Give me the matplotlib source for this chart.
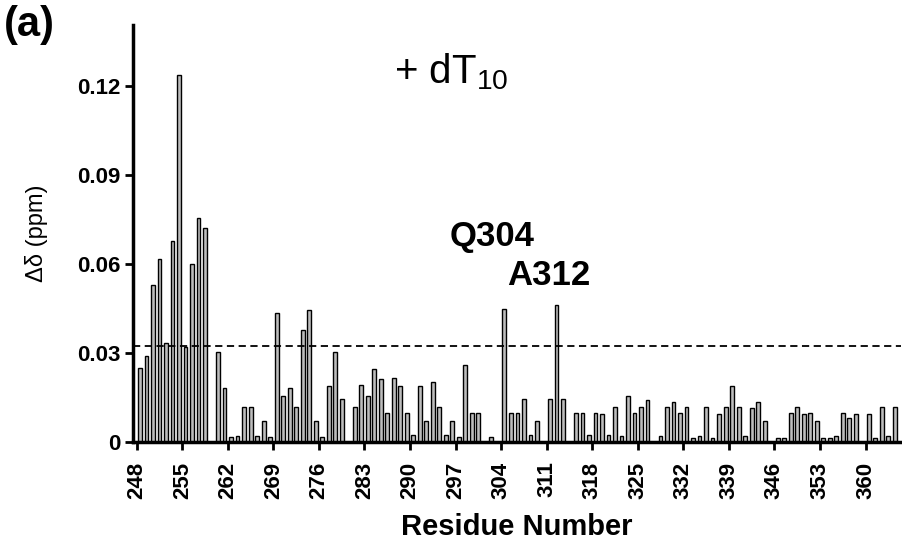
import numpy as np
import matplotlib
matplotlib.use("Agg")
import matplotlib.pyplot as plt

plt.rcParams["font.family"] = ["Liberation Sans", "DejaVu Sans"]
plt.rcParams["mathtext.fontset"] = "custom"
plt.rcParams["mathtext.rm"] = "Liberation Sans"

# chemical shift perturbation per residue (residues without data are left out)
residues = [248, 249, 250, 251, 252, 253, 254, 255, 256, 257, 258,
            260, 261, 262, 263, 264, 265, 266, 267, 268, 269, 270, 271,
            272, 273, 274, 275, 276, 277, 278, 279,
            281, 282, 283, 284, 285, 286, 287, 288, 289, 290, 291, 292,
            293, 294, 295, 296, 297, 298, 299, 300,
            302,
            304, 305, 306, 307, 308, 309,
            311, 312, 313,
            315, 316, 317, 318, 319, 320, 321, 322, 323, 324, 325, 326,
            328, 329, 330, 331, 332, 333, 334, 335, 336, 337, 338, 339,
            340, 341, 342, 343, 344,
            346, 347, 348, 349, 350, 351, 352, 353, 354, 355, 356, 357, 358,
            360, 361, 362, 363, 364]
delta = [0.0248, 0.0290, 0.0528, 0.0616, 0.0335, 0.0677, 0.1236, 0.0321,
         0.0599, 0.0756, 0.0722,
         0.0304, 0.0183, 0.0016, 0.0021, 0.0117, 0.0117, 0.0021, 0.0072,
         0.0016, 0.0436, 0.0156, 0.0183, 0.0118, 0.0376, 0.0444, 0.0071,
         0.0016, 0.0189, 0.0302, 0.0144,
         0.0119, 0.0191, 0.0156, 0.0245, 0.0213, 0.0097, 0.0215, 0.0189,
         0.0097, 0.0023, 0.0189, 0.0071, 0.0202, 0.0118, 0.0023, 0.0071,
         0.0016, 0.0258, 0.0097, 0.0097,
         0.0016,
         0.0449, 0.0097, 0.0097, 0.0144, 0.0023, 0.0071,
         0.0144, 0.0463, 0.0144,
         0.0099, 0.0099, 0.0023, 0.0099, 0.0094, 0.0023, 0.0118, 0.0020,
         0.0156, 0.0097, 0.0118, 0.0142,
         0.0020, 0.0118, 0.0136, 0.0097, 0.0118, 0.0013, 0.0020, 0.0118,
         0.0013, 0.0094, 0.0118, 0.0189, 0.0118, 0.0020, 0.0113, 0.0136,
         0.0072,
         0.0015, 0.0015, 0.0099, 0.0118, 0.0094, 0.0097, 0.0072, 0.0015,
         0.0015, 0.0021, 0.0097, 0.0082, 0.0094,
         0.0094, 0.0015, 0.0118, 0.0021, 0.0118]

threshold = 0.0325
xticks = list(range(248, 361, 7))
yticks = [0, 0.03, 0.06, 0.09, 0.12]
ytick_labels = ["0", "0.03", "0.06", "0.09", "0.12"]
labels = [("Q304", 302.6, 0.0691), ("A312", 311.3, 0.0560)]

fig = plt.figure(figsize=(9.02, 5.39), dpi=100)
ax = fig.add_axes([0.1475, 0.18, 0.851, 0.7736])

x = np.array(residues) + 0.5
ax.bar(x, delta, width=0.58, color="#bdbdbd", edgecolor="black", linewidth=1.0)
ax.axhline(threshold, color="black", linestyle=(0, (4, 2.5)), linewidth=1.3)

ax.set_xlim(247.43, 365.4)
ax.set_ylim(0, 0.1405)
ax.set_xticks(xticks)
ax.set_xticklabels([str(t) for t in xticks], rotation=90, fontsize=16,
                   fontweight="bold")
ax.set_yticks(yticks)
ax.set_yticklabels(ytick_labels, fontsize=16, fontweight="bold")
ax.tick_params(axis="y", direction="out", length=6, width=2, pad=3)
ax.tick_params(axis="x", direction="out", length=6, width=2, pad=8)

for side in ["top", "right"]:
    ax.spines[side].set_visible(False)
for side in ["left", "bottom"]:
    ax.spines[side].set_linewidth(2.5)

ax.set_xlabel("Residue Number", fontsize=21, fontweight="bold", labelpad=10)
ax.set_ylabel("Δδ (ppm)", fontsize=17, labelpad=21)

for name, lx, ly in labels:
    ax.text(lx, ly, name, fontsize=25, fontweight="bold", ha="center",
            va="center")
ax.text(296.3, 0.1207, r"+ dT$_{\mathrm{10}}$", fontsize=29, ha="center",
        va="baseline")

fig.text(0.004, 0.99, "(a)", fontsize=30, fontweight="bold", va="top")

fig.savefig("out.png", dpi=100)
